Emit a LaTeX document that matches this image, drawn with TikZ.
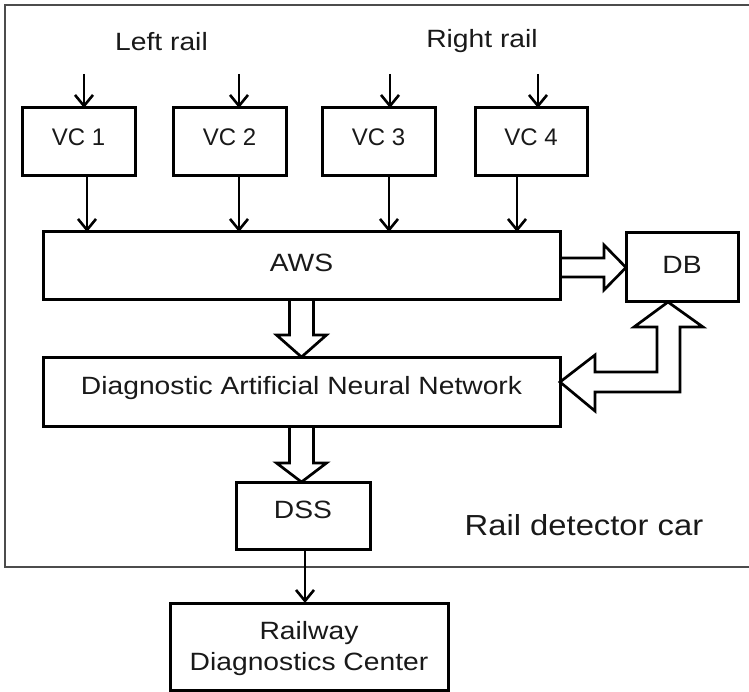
\documentclass[tikz,border=0pt]{standalone}
\usepackage{fontspec}
\setmainfont{Liberation Sans}[FakeStretch=1.13]
\newfontfamily\narrowsans{Liberation Sans}
\usetikzlibrary{arrows.meta,calc}
\tikzset{
  box/.style={draw, rectangle, line width=3pt, inner sep=0pt, outer sep=0pt},
  lbl/.style={font=\fontsize{25}{30}\selectfont, text=black!90, inner sep=0pt},
  vclbl/.style={font=\narrowsans\fontsize{24}{28}\selectfont, text=black!90, inner sep=0pt},
  arr/.style={line width=2.6pt, -{Straight Barb[length=11pt,width=18pt]}},
  hollow/.style={line width=2.7pt, line join=miter},
  frame/.style={line width=2.2pt, draw=black!70},
}
\begin{document}
\begin{tikzpicture}[x=1pt,y=-1pt]
\clip (0,0) rectangle (749,692);

% rail detector car enclosure (open to the right)
\draw[frame] (760,5) -- (5,5) -- (5,567) -- (760,567);
\node[lbl, font=\fontsize{29}{34}\selectfont, anchor=base] (carlbl) at (584,535) {Rail detector car};

% rail inputs
\node[lbl, anchor=base] (lrail) at (161.5,51) {Left rail};
\node[lbl, anchor=base] (rrail) at (482,48) {Right rail};

% video cameras
\node[box, minimum width=113pt, minimum height=68pt,
      label={[vclbl,anchor=base,yshift=5pt]center:VC 1}] (vc1) at (78.5,142) {};
\node[box, minimum width=113pt, minimum height=68pt,
      label={[vclbl,anchor=base,yshift=5pt]center:VC 2}] (vc2) at (229.5,142) {};
\node[box, minimum width=113pt, minimum height=68pt,
      label={[vclbl,anchor=base,yshift=5pt]center:VC 3}] (vc3) at (378.5,142) {};
\node[box, minimum width=112pt, minimum height=68pt,
      label={[vclbl,anchor=base,yshift=5pt]center:VC 4}] (vc4) at (531,142) {};

% processing blocks
\node[box, minimum width=517pt, minimum height=68pt,
      label={[lbl,anchor=base,yshift=3pt]center:AWS}] (aws) at (301.5,266) {};
\node[box, minimum width=112pt, minimum height=69pt,
      label={[lbl,anchor=base,yshift=2.5pt]center:DB}] (db) at (682,267.5) {};
\node[box, minimum width=517pt, minimum height=69pt,
      label={[lbl,anchor=base,yshift=3.5pt]center:Diagnostic Artificial Neural Network}] (dann) at (301.5,391.5) {};
\node[box, minimum width=134pt, minimum height=67pt,
      label={[lbl,anchor=base,yshift=5.5pt]center:DSS}] (dss) at (303,515.5) {};
\node[box, minimum width=278pt, minimum height=87pt,
      label={[lbl,anchor=base,yshift=13.5pt]center:Railway},
      label={[lbl,anchor=base,yshift=-17.5pt]center:Diagnostics Center}] (rdc) at (309,646.5) {};

% camera inputs
\coordinate (in1) at (84,74);
\coordinate (in2) at (239,74);
\coordinate (in3) at (390,74);
\coordinate (in4) at (538,74);
\draw[arr] (in1) -- (in1 |- vc1.north);
\draw[arr] (in2) -- (in2 |- vc2.north);
\draw[arr] (in3) -- (in3 |- vc3.north);
\draw[arr] (in4) -- (in4 |- vc4.north);

% cameras to AWS
\draw[arr] ([xshift=8.5pt]vc1.south) -- ([xshift=8.5pt]vc1.south |- aws.north);
\draw[arr] ([xshift=9.5pt]vc2.south) -- ([xshift=9.5pt]vc2.south |- aws.north);
\draw[arr] ([xshift=10.5pt]vc3.south) -- ([xshift=10.5pt]vc3.south |- aws.north);
\draw[arr] ([xshift=-14pt]vc4.south) -- ([xshift=-14pt]vc4.south |- aws.north);

% AWS to DB (block arrow)
\draw[hollow] (aws.east |- 0,258) -- (604,258) -- (604,245) -- (db.west)
  -- (604,290) -- (604,277) -- (aws.east |- 0,277);

% AWS to neural network (block arrow)
\draw[hollow] (289.5,300) -- (289.5,335) -- (276.5,335) -- (dann.north)
  -- (326.5,335) -- (313.5,335) -- (313.5,300);

% neural network to DSS (block arrow)
\draw[hollow] (289.5,426) -- (289.5,463) -- (276.5,463) -- (dann.south |- dss.north)
  -- (326.5,463) -- (313.5,463) -- (313.5,426);

% DB <-> neural network (double block arrow)
\coordinate (dbin) at ([xshift=-14pt]db.south);
\coordinate (dannin) at ([yshift=9.5pt]dann.east);
\draw[hollow] (dbin) -- (703,327) -- (680,327) -- (680,392) -- (595,392)
  -- (595,411) -- (dannin) -- (595,355) -- (595,372) -- (657,372)
  -- (657,327) -- (634,327) -- cycle;

% DSS to diagnostics center
\draw[arr] ([xshift=2pt]dss.south) -- ([xshift=2pt]dss.south |- rdc.north);
\end{tikzpicture}
\end{document}
